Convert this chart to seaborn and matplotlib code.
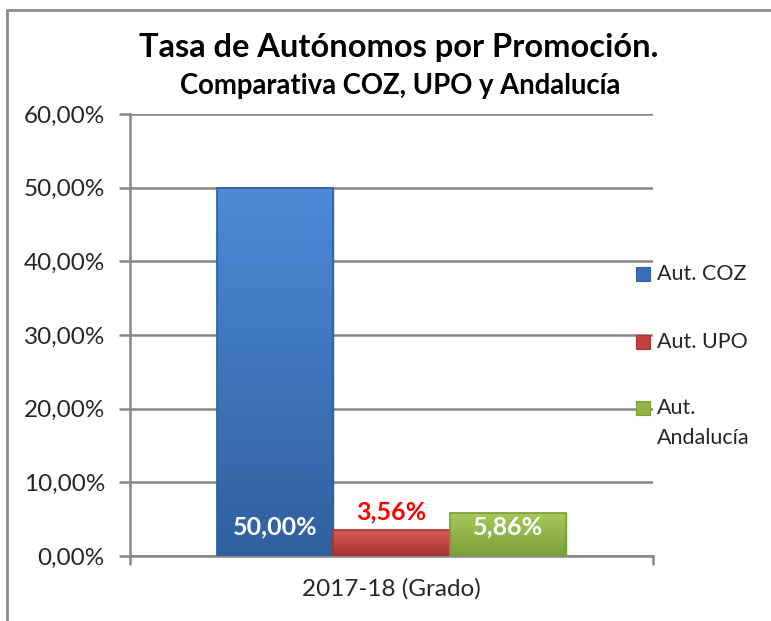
import numpy as np
import pandas as pd
import matplotlib
matplotlib.use("Agg")
import matplotlib.pyplot as plt
import seaborn as sns
from matplotlib.colors import LinearSegmentedColormap
from matplotlib.patches import Rectangle
from matplotlib.lines import Line2D

# ---- data ----
categories = ["2017-18 (Grado)"]
series = ["Aut. COZ", "Aut. UPO", "Aut.\nAndalucía"]
values = [50.00, 3.56, 5.86]
value_labels = ["50,00%", "3,56%", "5,86%"]
yticks = [0, 10, 20, 30, 40, 50, 60]
ytick_labels = ["0,00%", "10,00%", "20,00%", "30,00%", "40,00%", "50,00%", "60,00%"]
title = "Tasa de Autónomos por Promoción."
subtitle = "Comparativa COZ, UPO y Andalucía"

top_colors = ["#4C8AD6", "#DC5956", "#A8CA5B"]
bot_colors = ["#30609E", "#A63533", "#7C9E38"]
base_colors = ["#3A6FB8", "#C0403D", "#93B44A"]

df = pd.DataFrame({"cat": categories * len(series), "serie": series, "val": values})

sns.set_theme(style="white")
plt.rcParams["font.family"] = ["Lato", "DejaVu Sans"]

fig = plt.figure(figsize=(7.71, 6.21), dpi=100)
ax = fig.add_axes([130/771, 1-556/621, (653-130)/771, (556-114)/621])

sns.barplot(data=df, x="cat", y="val", hue="serie", hue_order=series,
            palette=base_colors, width=0.667, ax=ax, legend=False,
            saturation=1, edgecolor="none", zorder=3)

ax.set_ylim(0, 60)
ax.set_xlim(-0.5, 0.5)
ax.set_yticks(yticks)
ax.set_yticklabels(ytick_labels, fontsize=17.5, color="#262626")
ax.set_xlabel("")
ax.set_ylabel("")
ax.tick_params(axis="x", labelsize=17.5, colors="#262626", length=0, pad=16)
ax.tick_params(axis="y", length=8, width=1.8, color="#868686", pad=10, direction="out", left=True)
ax.yaxis.grid(True, color="#868686", linewidth=1.8, zorder=0)
ax.set_axisbelow(True)
for s in ["top", "right"]:
    ax.spines[s].set_visible(False)
for s in ["left", "bottom"]:
    ax.spines[s].set_color("#868686")
    ax.spines[s].set_linewidth(1.8)

# end ticks on x axis
for xx in (-0.5, 0.5):
    ax.plot([xx, xx], [0, -1.1], color="#868686", lw=1.8, clip_on=False, zorder=4)

# gradient fills
bars = [p for p in ax.patches if p.get_height() > 0]
for i, p in enumerate(bars):
    x0, y0 = p.get_x(), p.get_y()
    w, h = p.get_width(), p.get_height()
    cmap = LinearSegmentedColormap.from_list("g%d" % i, [bot_colors[i], top_colors[i]])
    grad = np.linspace(0, 1, 256).reshape(-1, 1)
    im = ax.imshow(grad, cmap=cmap, extent=[x0, x0 + w, y0, y0 + h], origin="lower",
                   aspect="auto", zorder=3.5, interpolation="bicubic")
    im.set_clip_path(p)
    p.set_edgecolor(bot_colors[i])
    p.set_linewidth(1.0)
    ax.add_patch(Rectangle((x0, y0), w, h, fill=False, edgecolor=bot_colors[i], lw=1.2, zorder=3.6))

ax.set_aspect("auto")
ax.set_xlim(-0.5, 0.5)
ax.set_ylim(0, 60)

# value labels
for i, p in enumerate(bars):
    cx = p.get_x() + p.get_width() / 2
    if i == 1:
        ax.text(cx, values[i] + 0.8, value_labels[i], ha="center", va="bottom",
                color="#FF0000", fontsize=18, fontweight="bold", zorder=6)
    else:
        ax.text(cx, 3.9, value_labels[i], ha="center", va="center",
                color="white", fontsize=18, fontweight="bold", zorder=6)

# titles
fig.text(0.5 + 13/771, 1 - 47/621, title, ha="center", va="center", fontsize=23.5, fontweight="bold", color="black")
fig.text(0.5 + 15/771, 1 - 86/621, subtitle, ha="center", va="center", fontsize=19.8, fontweight="bold", color="black")

# legend
legend_y = [274, 342, 408]
for i, lab in enumerate(series):
    yy = 1 - legend_y[i] / 621
    fig.patches.append(Rectangle((636/771, yy - 7/621), 14/771, 14/621, transform=fig.transFigure,
                                 facecolor=base_colors[i], edgecolor=bot_colors[i], lw=0.8))
    fig.text(657/771, yy + 10/621 if "\n" in lab else yy, lab, ha="left",
             va="top" if "\n" in lab else "center",
             fontsize=15.5, color="#262626", linespacing=1.65)

# outer border (left and top only)
fig.add_artist(Line2D([7/771, 7/771], [0, 1 - 10/621], transform=fig.transFigure, color="#8C8C8C", lw=2))
fig.add_artist(Line2D([7/771, 1], [1 - 10/621, 1 - 10/621], transform=fig.transFigure, color="#8C8C8C", lw=2))

fig.savefig("out.png", dpi=100)
